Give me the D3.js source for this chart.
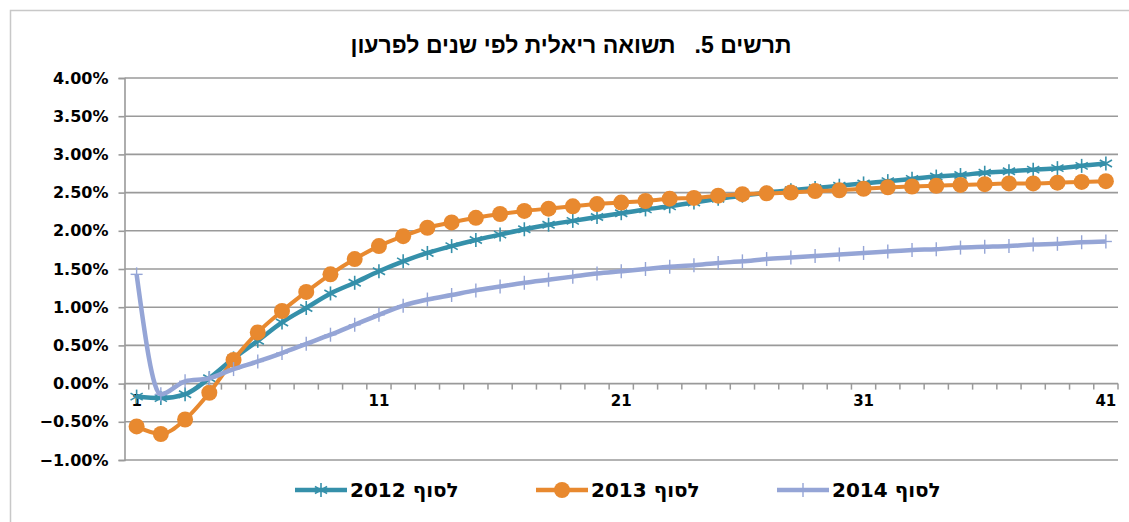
<!DOCTYPE html>
<html>
<head>
<meta charset="utf-8">
<script src="https://cdn.jsdelivr.net/npm/d3@7"></script>
<style>
  body { margin: 0; background: #fff; }
  svg text { font-family: "DejaVu Sans", "Liberation Sans", Arial, sans-serif; font-weight: bold; fill: #000; }
</style>
</head>
<body>
<svg id="chart" width="1129" height="522"></svg>
<script>
// Years to maturity (categories)
const years = [1,2,3,4,5,6,7,8,9,10,11,12,13,14,15,16,17,18,19,20,
               21,22,23,24,25,26,27,28,29,30,31,32,33,34,35,36,37,38,39,40,41];

// Real yield (%) by years to maturity
const end2012 = [-0.17,-0.19,-0.14,0.07,0.33,0.56,0.80,0.99,1.18,1.32,
                 1.47,1.60,1.71,1.80,1.88,1.95,2.02,2.08,2.13,2.18,
                 2.23,2.28,2.32,2.37,2.42,2.46,2.50,2.53,2.56,2.59,
                 2.62,2.65,2.68,2.71,2.73,2.76,2.78,2.80,2.82,2.85,2.88];
const end2013 = [-0.56,-0.66,-0.47,-0.12,0.31,0.67,0.95,1.20,1.43,1.63,
                 1.80,1.93,2.04,2.11,2.17,2.22,2.26,2.29,2.32,2.35,
                 2.37,2.39,2.42,2.43,2.46,2.48,2.49,2.50,2.52,2.53,
                 2.55,2.57,2.58,2.59,2.60,2.61,2.62,2.62,2.63,2.64,2.65];
const end2014 = [1.43,-0.14,0.03,0.07,0.19,0.29,0.40,0.52,0.64,0.77,
                 0.90,1.02,1.10,1.16,1.22,1.27,1.32,1.36,1.40,1.44,
                 1.47,1.50,1.53,1.55,1.58,1.60,1.63,1.65,1.67,1.69,
                 1.71,1.73,1.75,1.76,1.78,1.79,1.80,1.82,1.83,1.85,1.86];

const yTicks = [-1, -0.5, 0, 0.5, 1, 1.5, 2, 2.5, 3, 3.5, 4];
const xTickLabels = [1, 11, 21, 31, 41];
const seriesNames = ["לסוף 2012", "לסוף 2013", "לסוף 2014"];
const title = "תרשים 5.   תשואה ריאלית לפי שנים לפרעון";

const series = [
    { name: seriesNames[0], values: end2012, color: "#3590AA", marker: "star" },
    { name: seriesNames[1], values: end2013, color: "#E8892F", marker: "circle" },
    { name: seriesNames[2], values: end2014, color: "#95A5D6", marker: "plus" }
];

const svg = d3.select("#chart");

// outer frame
svg.append("rect")
    .attr("x", 10.5).attr("y", 10.5)
    .attr("width", 1140).attr("height", 540)
    .attr("fill", "none").attr("stroke", "#c8c8c8").attr("stroke-width", 1.5);

const plotLeft = 124.5, plotRight = 1118, plotTop = 78, plotBottom = 460;

const x = d3.scalePoint().domain(years).range([plotLeft, plotRight]).padding(0.5);
const y = d3.scaleLinear().domain([-1, 4]).range([plotBottom, plotTop]);
const step = x.step();

// title
svg.append("text")
    .attr("x", 571).attr("y", 53)
    .attr("text-anchor", "middle")
    .style("font-family", "'Liberation Sans', Arial, sans-serif")
    .style("font-size", "23px")
    .style("white-space", "pre")
    .text(title);

// gridlines
svg.append("g")
    .selectAll("line")
    .data(yTicks)
    .join("line")
    .attr("x1", plotLeft).attr("x2", plotRight)
    .attr("y1", d => y(d)).attr("y2", d => y(d))
    .attr("stroke", "#9a9a9a").attr("stroke-width", 1.6);

// y axis
const yAxis = svg.append("g")
    .attr("transform", `translate(${plotLeft},0)`)
    .call(d3.axisLeft(y).tickValues(yTicks).tickSize(6).tickPadding(10)
        .tickFormat(d => d3.format(".2f")(d) + "%"));
yAxis.attr("font-family", null).attr("font-size", null);
yAxis.select(".domain").attr("stroke", "#9a9a9a").attr("stroke-width", 1.6);
yAxis.selectAll(".tick line").attr("stroke", "#9a9a9a").attr("stroke-width", 1.6);
yAxis.selectAll(".tick text")
    .style("font-size", "16px").attr("fill", "#000");

// x axis along the zero line, ticks between categories
const bounds = years.map(d => x(d) - step / 2).concat([x(years[years.length - 1]) + step / 2]);
svg.append("g")
    .selectAll("line")
    .data(bounds)
    .join("line")
    .attr("x1", d => d).attr("x2", d => d)
    .attr("y1", y(0)).attr("y2", y(0) + 6)
    .attr("stroke", "#9a9a9a").attr("stroke-width", 1.5);

svg.append("g")
    .selectAll("text")
    .data(xTickLabels)
    .join("text")
    .attr("x", d => x(d))
    .attr("y", y(0) + 22)
    .attr("text-anchor", "middle")
    .style("font-size", "15px")
    .text(d => d);

// lines
const line = d3.line()
    .x((d, i) => x(years[i]))
    .y(d => y(d))
    .curve(d3.curveMonotoneX);

function drawMarker(g, type, color) {
    if (type === "circle") {
        g.append("circle").attr("r", 8).attr("fill", color);
    } else if (type === "star") {
        const r = 7;
        [[0, -r, 0, r], [-r * 0.87, -r * 0.5, r * 0.87, r * 0.5], [-r * 0.87, r * 0.5, r * 0.87, -r * 0.5]]
            .forEach(s => g.append("line")
                .attr("x1", s[0]).attr("y1", s[1]).attr("x2", s[2]).attr("y2", s[3])
                .attr("stroke", color).attr("stroke-width", 1.6));
    } else {
        g.append("line").attr("x1", 0).attr("x2", 0).attr("y1", -7).attr("y2", 7)
            .attr("stroke", color).attr("stroke-width", 1.4);
        g.append("line").attr("x1", -6).attr("x2", 6).attr("y1", 0).attr("y2", 0)
            .attr("stroke", color).attr("stroke-width", 1.4);
    }
}

series.forEach(s => {
    const g = svg.append("g");
    g.append("path")
        .datum(s.values)
        .attr("d", line)
        .attr("fill", "none")
        .attr("stroke", s.color)
        .attr("stroke-width", s.marker === "circle" ? 4 : 4.5)
        .attr("stroke-linejoin", "round");
    g.selectAll("g.m")
        .data(s.values)
        .join("g")
        .attr("class", "m")
        .attr("transform", (d, i) => `translate(${x(years[i])},${y(d)})`)
        .each(function() { drawMarker(d3.select(this), s.marker, s.color); });
});

// legend
const legendX = [295, 536, 777];
series.forEach((s, i) => {
    const g = svg.append("g").attr("transform", `translate(${legendX[i]},490)`);
    g.append("line").attr("x1", 0).attr("x2", 52).attr("y1", 0).attr("y2", 0)
        .attr("stroke", s.color).attr("stroke-width", 4.5);
    const m = g.append("g").attr("transform", "translate(26,0)");
    drawMarker(m, s.marker, s.color);
    g.append("text")
        .attr("x", 55).attr("y", 7)
        .style("font-size", "20px")
        .text(s.name);
});
</script>
</body>
</html>
